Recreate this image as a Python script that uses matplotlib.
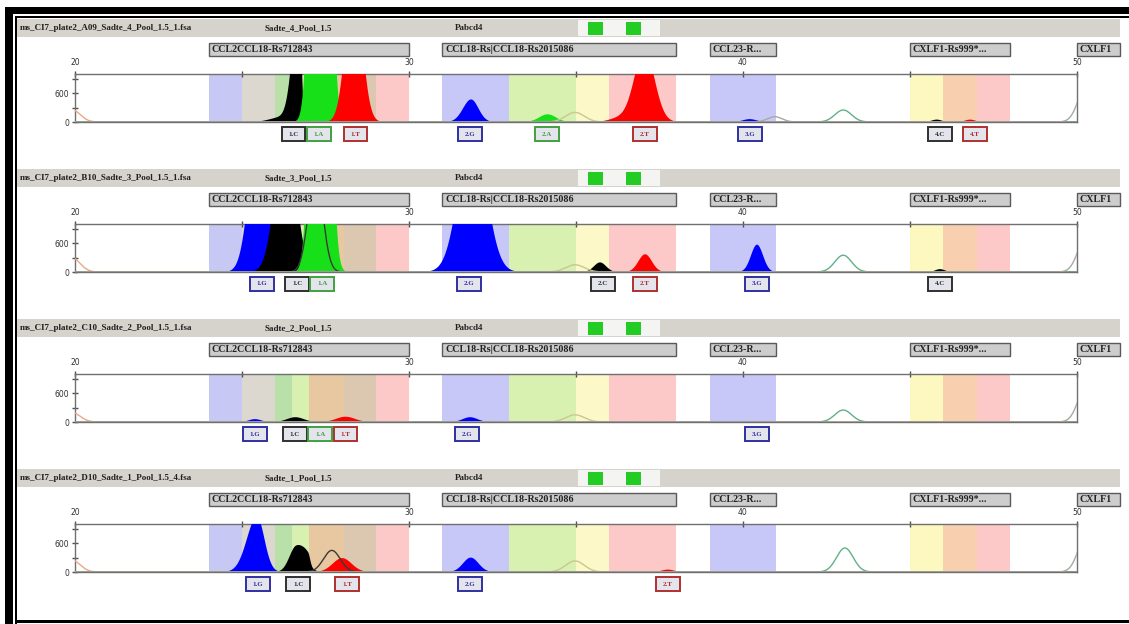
import numpy as np
import matplotlib
matplotlib.use("Agg")
import matplotlib.pyplot as plt
from matplotlib.patches import Rectangle
from matplotlib.transforms import blended_transform_factory

W, H = 1129, 624

# ---- axis scales -------------------------------------------------------
size_ticks = [20, 25, 30, 35, 40, 45, 50]
size_labels = ["20", "", "30", "", "40", "", "50"]
rfu_ticks = [0, 300, 600, 900]
rfu_labels = ["0", "", "600", ""]

# ---- marker bins (size units) -----------------------------------------
bin_start = [24, 25, 26, 26.5, 27, 28.05, 29, 31, 33, 35, 36, 39, 45, 46, 47]
bin_end = [25, 26, 26.5, 27, 28.05, 29, 30, 33, 35, 36, 38, 41, 46, 47, 48]
bin_colors = ["#c8c8f5", "#dcd8d0", "#b8e0a8", "#d8f0b0", "#e8c8a0",
              "#dcc8b0", "#fcc8c8", "#c8c8f8", "#d8f0b0", "#fcf8c8",
              "#fcc8c8", "#c8c8f8", "#fcf8c0", "#f8d0b0", "#fcc8c8"]

marker_names = ["CCL2CCL18-Rs712843", "CCL18-Rs|CCL18-Rs2015086",
                "CCL23-R...", "CXLF1-Rs999*...", "CXLF1"]
marker_start = [24, 31, 39, 45, 50]
marker_end = [30, 38, 41, 48, 51.3]

# ---- samples -----------------------------------------------------------
sample_files = ["ms_CI7_plate2_A09_Sadte_4_Pool_1.5_1.fsa",
                "ms_CI7_plate2_B10_Sadte_3_Pool_1.5_1.fsa",
                "ms_CI7_plate2_C10_Sadte_2_Pool_1.5_1.fsa",
                "ms_CI7_plate2_D10_Sadte_1_Pool_1.5_4.fsa"]
sample_names = ["Sadte_4_Pool_1.5", "Sadte_3_Pool_1.5",
                "Sadte_2_Pool_1.5", "Sadte_1_Pool_1.5"]
panel_name = "Pabcd4"

# filled dye peaks: (dye, size, height RFU, left width, right width)
peaks_a09 = [("black", 26.72, 2500, 0.2, 0.06), ("black", 26.2, 100, 0.35, 0.35),
             ("green", 27.35, 20000, 0.2, 0.2), ("red", 28.35, 3000, 0.24, 0.24),
             ("blue", 31.86, 470, 0.24, 0.22), ("green", 34.15, 160, 0.25, 0.25),
             ("red", 37.05, 1500, 0.3, 0.3), ("red", 36.3, 80, 0.3, 0.3),
             ("blue", 40.2, 60, 0.2, 0.2), ("black", 45.8, 50, 0.15, 0.15),
             ("red", 46.8, 50, 0.15, 0.15)]
peaks_b10 = [("blue", 25.5, 3000, 0.28, 0.28), ("black", 26.3, 3000, 0.3, 0.3),
             ("green", 27.35, 20000, 0.2, 0.2), ("blue", 31.9, 3000, 0.4, 0.4),
             ("black", 35.72, 200, 0.18, 0.18), ("red", 37.07, 370, 0.2, 0.2),
             ("blue", 40.42, 570, 0.18, 0.18), ("black", 45.9, 60, 0.14, 0.14)]
peaks_c10 = [("blue", 25.39, 60, 0.18, 0.18), ("black", 26.6, 100, 0.25, 0.25),
             ("red", 28.1, 110, 0.28, 0.28), ("blue", 31.83, 100, 0.22, 0.22)]
peaks_d10 = [("blue", 25.45, 1150, 0.3, 0.22), ("black", 26.62, 520, 0.2, 0.25),
             ("black", 26.98, 230, 0.18, 0.06), ("red", 28.0, 290, 0.28, 0.28),
             ("blue", 31.85, 300, 0.23, 0.23), ("red", 37.75, 50, 0.18, 0.18)]

# unfilled (other dye / off-scale) traces: (colour key, size, height, width)
trace_a09 = [("orange", 19.9, 260, 0.25), ("yellow", 34.97, 200, 0.28),
             ("gray", 40.95, 110, 0.22), ("sea", 43.0, 250, 0.25),
             ("gray", 50.3, 800, 0.25)]
trace_b10 = [("orange", 19.9, 300, 0.25), ("dark", 27.2, 2000, 0.22),
             ("yellow", 34.97, 150, 0.28), ("sea", 43.0, 350, 0.25),
             ("gray", 50.3, 800, 0.25)]
trace_c10 = [("orange", 19.9, 200, 0.25), ("yellow", 34.97, 150, 0.28),
             ("sea", 43.0, 250, 0.25), ("gray", 50.3, 800, 0.25)]
trace_d10 = [("orange", 19.9, 250, 0.25), ("dark", 27.69, 450, 0.25),
             ("yellow", 34.97, 230, 0.28), ("sea", 43.05, 500, 0.25),
             ("gray", 50.3, 800, 0.25)]

# allele calls: (size, dye, label)
calls_a09 = [(26.55, "black", "1.C"), (27.3, "green", "1.A"), (28.39, "red", "1.T"),
             (31.83, "blue", "2.G"), (34.13, "green", "2.A"), (37.07, "red", "2.T"),
             (40.21, "blue", "3.G"), (45.9, "black", "4.C"), (46.95, "red", "4.T")]
calls_b10 = [(25.6, "blue", "1.G"), (26.65, "black", "1.C"), (27.4, "green", "1.A"),
             (31.8, "blue", "2.G"), (35.81, "black", "2.C"), (37.07, "red", "2.T"),
             (40.42, "blue", "3.G"), (45.9, "black", "4.C")]
calls_c10 = [(25.39, "blue", "1.G"), (26.59, "black", "1.C"), (27.34, "green", "1.A"),
             (28.09, "red", "1.T"), (31.74, "blue", "2.G"), (40.42, "blue", "3.G")]
calls_d10 = [(25.48, "blue", "1.G"), (26.68, "black", "1.C"), (28.14, "red", "1.T"),
             (31.83, "blue", "2.G"), (37.75, "red", "2.T")]

all_peaks = [peaks_a09, peaks_b10, peaks_c10, peaks_d10]
all_traces = [trace_a09, trace_b10, trace_c10, trace_d10]
all_calls = [calls_a09, calls_b10, calls_c10, calls_d10]

# ---- styling -----------------------------------------------------------
dye_colors = {"blue": "#0000ff", "green": "#18e018", "red": "#ff0000", "black": "#000000"}
dye_order = ["blue", "black", "green", "red"]
trace_colors = {"orange": "#eaa888", "yellow": "#c8c890", "gray": "#a8a8a8",
                "sea": "#62b088", "dark": "#3a3a3a"}
call_edge = {"blue": "#3030a0", "green": "#40a040", "red": "#b03030", "black": "#303030"}

SERIF = ["Liberation Serif", "DejaVu Serif"]

fig = plt.figure(figsize=(W / 100, H / 100), dpi=100)
fig.patch.set_facecolor("white")


def fx(px):
    return px / W


def fy(py):
    return 1 - py / H


def box(x0, y0, x1, y1, **kw):
    fig.add_artist(Rectangle((fx(x0), fy(y1)), fx(x1) - fx(x0), fy(y0) - fy(y1),
                             transform=fig.transFigure, **kw))


# window frame
box(5, 7, W, 14, facecolor="black", lw=0)
box(15, 16, W, 18, facecolor="black", lw=0)
box(5, 7, 13, H, facecolor="black", lw=0)
box(15, 16, 17, H, facecolor="black", lw=0)
box(15, 620, W, 623, facecolor="black", lw=0)

xs = np.linspace(19.5, 51.5, 4000)


def peak_curve(pos, h, wl, wr):
    w = np.where(xs < pos, wl, wr)
    return h * np.exp(-0.5 * ((xs - pos) / w) ** 2)


for k in range(4):
    dy = 150 * k

    # sample header strip
    box(17, 19 + dy, 1120, 37 + dy, facecolor="#d6d2cc", lw=0)
    box(578, 20 + dy, 660, 36 + dy, facecolor="#f4f4f2", lw=0)
    box(588, 22 + dy, 603, 35 + dy, facecolor="#22cc22", lw=0)
    box(626, 22 + dy, 641, 35 + dy, facecolor="#22cc22", lw=0)
    for xp, txt in [(20, sample_files[k]), (265, sample_names[k]), (455, panel_name)]:
        fig.text(fx(xp), fy(28 + dy), txt, fontsize=6.5, family=SERIF,
                 weight="bold", va="center", ha="left", color="#202020")

    ax = fig.add_axes([fx(75), fy(122 + dy), fx(1077) - fx(75), fy(74 + dy) - fy(122 + dy)])
    ax.set_xlim(20, 50)
    ax.set_ylim(0, 1000)
    ax.set_facecolor("white")
    for s in ax.spines.values():
        s.set_color("#707070")
        s.set_linewidth(1.0)

    for s, e, c in zip(bin_start, bin_end, bin_colors):
        ax.axvspan(s, e, color=c, lw=0, zorder=0)

    # filled dye traces
    for dye in dye_order:
        y = np.zeros_like(xs)
        for d, pos, h, wl, wr in all_peaks[k]:
            if d == dye:
                y += peak_curve(pos, h, wl, wr)
        if y.max() > 0:
            ax.fill_between(xs, 0, y, facecolor=dye_colors[dye], lw=0, zorder=3)

    # outline traces
    for key, pos, h, w in all_traces[k]:
        ax.plot(xs, peak_curve(pos, h, w, w), color=trace_colors[key], lw=1.0, zorder=4)

    ax.axhline(0, color="#9a4a3a", lw=0.9, zorder=6)

    ax.xaxis.tick_top()
    ax.set_xticks(size_ticks)
    ax.set_xticklabels(size_labels)
    ax.set_yticks(rfu_ticks)
    ax.set_yticklabels(rfu_labels)
    ax.tick_params(axis="x", direction="inout", length=4, width=1, color="#505050",
                   labelsize=5.5, pad=3, labelcolor="#303030")
    ax.tick_params(axis="y", direction="inout", length=4, width=1, color="#505050",
                   labelsize=5.5, pad=2, labelcolor="#303030")

    trans = blended_transform_factory(ax.transData, fig.transFigure)

    # marker bars
    for name, s, e in zip(marker_names, marker_start, marker_end):
        ax.add_patch(Rectangle((s, fy(56 + dy)), e - s, fy(43 + dy) - fy(56 + dy),
                               transform=trans, clip_on=False, facecolor="#cdcdcd",
                               edgecolor="#5a5a5a", lw=1.0, zorder=6))
        ax.text(s + 0.08, fy(49.5 + dy), name, transform=trans, fontsize=7.2,
                family=SERIF, weight="bold", va="center", ha="left",
                color="#222222", clip_on=False, zorder=7)

    # allele call boxes
    for pos, dye, lab in all_calls[k]:
        ax.add_patch(Rectangle((pos - 0.35, fy(141 + dy)), 0.7, fy(127 + dy) - fy(141 + dy),
                               transform=trans, clip_on=False, facecolor="#e4e4ec",
                               edgecolor=call_edge[dye], lw=1.4, zorder=6))
        ax.text(pos, fy(134 + dy), lab, transform=trans, fontsize=5,
                family=SERIF, weight="bold", va="center", ha="center",
                color=call_edge[dye], clip_on=False, zorder=7)

fig.savefig("out.png", dpi=100)
